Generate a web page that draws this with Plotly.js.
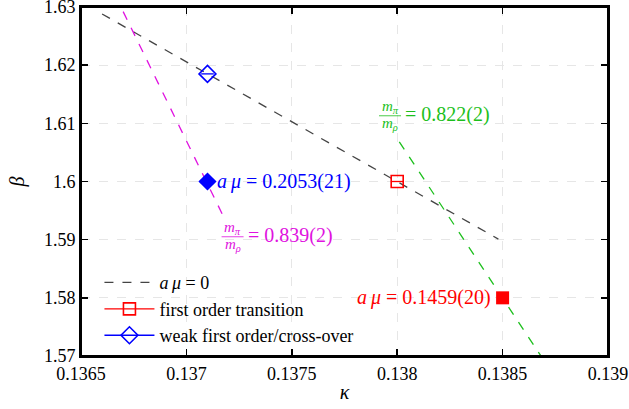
<!DOCTYPE html>
<html>
<head>
<meta charset="utf-8">
<script src="https://cdn.plot.ly/plotly-3.0.1.min.js"></script>
<style>
html,body{margin:0;padding:0;background:#fff}
#plot{width:629px;height:409px}
</style>
</head>
<body>
<div id="plot"></div>
<script>
// a mu = 0 line
const zeroMuKappa = [0.13660, 0.13848];
const zeroMuBeta  = [1.6288, 1.5901];
// m_pi/m_rho = 0.839(2) line
const ratio839Kappa = [0.13670, 0.13717];
const ratio839Beta  = [1.6292, 1.5944];
// m_pi/m_rho = 0.822(2) line
const ratio822Kappa = [0.13801, 0.13868];
const ratio822Beta  = [1.6068, 1.5701];
// points
const firstOrderKappa = [0.1380];
const firstOrderBeta  = [1.600];
const firstOrderErr   = [0.00003];
const weakKappa = [0.1371];
const weakBeta  = [1.6185];
const weakErr   = [0.00003];
const muWeakKappa = [0.1371];
const muWeakBeta  = [1.600];
const muFirstKappa = [0.1385];
const muFirstBeta  = [1.580];
// tick labels
const xTicks = [0.1365, 0.137, 0.1375, 0.138, 0.1385, 0.139];
const xTickText = ["0.1365", "0.137", "0.1375", "0.138", "0.1385", "0.139"];
const yTicks = [1.57, 1.58, 1.59, 1.60, 1.61, 1.62, 1.63];
const yTickText = ["1.57", "1.58", "1.59", "1.6", "1.61", "1.62", "1.63"];
// labels
const muWeakLabel  = "<i>a\u2009\u03bc</i> = 0.2053(21)";
const muFirstLabel = "<i>a\u2009\u03bc</i> = 0.1459(20)";
const ratio839Label = "= 0.839(2)";
const ratio822Label = "= 0.822(2)";
const ratio839Pos = [0.137219, 1.5905];
const ratio822Pos = [0.137966, 1.6113];

const FONT = "'Liberation Serif', 'DejaVu Serif', serif";
const blue = "#0000ff", red = "#ff0000", green = "#1cbf1c", magenta = "#e012e0";

const traces = [
  {x: zeroMuKappa, y: zeroMuBeta, mode: "lines", name: "<i>a\u2009\u03bc</i> = 0",
   line: {color: "#444", width: 1.3, dash: "dash"}, showlegend: true},
  {x: ratio839Kappa, y: ratio839Beta, mode: "lines", line: {color: magenta, width: 1.3, dash: "dash"}, showlegend: false},
  {x: ratio822Kappa, y: ratio822Beta, mode: "lines", line: {color: green, width: 1.3, dash: "dash"}, showlegend: false},
  {x: firstOrderKappa, y: firstOrderBeta, mode: "lines+markers", name: "first order transition",
   line: {color: red, width: 1.3},
   marker: {symbol: "square-open", size: 12, color: red, line: {width: 1.6, color: red}},
   error_x: {type: "data", array: firstOrderErr, color: red, thickness: 1.3, width: 0}},
  {x: weakKappa, y: weakBeta, mode: "lines+markers", name: "weak first order/cross-over",
   line: {color: blue, width: 1.3},
   marker: {symbol: "diamond-open", size: 13, color: blue, line: {width: 1.6, color: blue}},
   error_x: {type: "data", array: weakErr, color: blue, thickness: 1.3, width: 0}},
  {x: muWeakKappa, y: muWeakBeta, mode: "markers", showlegend: false,
   marker: {symbol: "diamond", size: 14, color: blue}},
  {x: muFirstKappa, y: muFirstBeta, mode: "markers", showlegend: false,
   marker: {symbol: "square", size: 13, color: red}}
];

function fraction(pos, color, label) {
  return [
    {x: pos[0], y: pos[1], xref: "x", yref: "y", text: "<i>m<sub>\u03c0</sub></i>", showarrow: false,
     yshift: 9, font: {family: FONT, size: 15, color: color}},
    {x: pos[0], y: pos[1], xref: "x", yref: "y", text: "<i>m<sub>\u03c1</sub></i>", showarrow: false,
     yshift: -8, font: {family: FONT, size: 15, color: color}},
    {x: pos[0], y: pos[1], xref: "x", yref: "y", text: label, showarrow: false,
     xanchor: "left", xshift: 13, yshift: 1, font: {family: FONT, size: 20, color: color}}
  ];
}

const annotations = [
  {x: muWeakKappa[0], y: muWeakBeta[0], xref: "x", yref: "y", text: muWeakLabel,
   showarrow: false, xanchor: "left", xshift: 8, font: {family: FONT, size: 20, color: blue}},
  {x: muFirstKappa[0], y: muFirstBeta[0], xref: "x", yref: "y", text: muFirstLabel,
   showarrow: false, xanchor: "right", xshift: -10, font: {family: FONT, size: 20, color: red}},
  ...fraction(ratio839Pos, magenta, ratio839Label),
  ...fraction(ratio822Pos, green, ratio822Label)
];

function bar(pos, color) {
  return {type: "line", xref: "x", yref: "y", xsizemode: "pixel", ysizemode: "pixel",
    xanchor: pos[0], yanchor: pos[1], x0: -11, x1: 11, y0: 0, y1: 0,
    line: {color: color, width: 0.8}};
}

const axisCommon = {
  showline: true, linecolor: "#000", linewidth: 2, mirror: "ticks",
  ticks: "inside", ticklen: 7, tickwidth: 1.5, tickcolor: "#000",
  showgrid: true, gridcolor: "#e6e6e6", griddash: "dash", gridwidth: 1,
  zeroline: false, ticklabeloverflow: "allow",
  tickfont: {family: FONT, size: 18, color: "#000"}
};

const layout = {
  width: 629, height: 409,
  margin: {l: 81, r: 21, t: 7, b: 53},
  paper_bgcolor: "#fff", plot_bgcolor: "#fff",
  font: {family: FONT, color: "#000"},
  xaxis: Object.assign({}, axisCommon, {
    range: [0.1365, 0.139], tickmode: "array", tickvals: xTicks, ticktext: xTickText,
    title: {text: "<i>\u03ba</i>", font: {family: FONT, size: 20}, standoff: 2}
  }),
  yaxis: Object.assign({}, axisCommon, {
    range: [1.57, 1.63], tickmode: "array", tickvals: yTicks, ticktext: yTickText,
    title: {text: "<i>\u03b2</i>", font: {family: FONT, size: 20}, standoff: 14}
  }),
  legend: {x: 0.035, y: 0.005, xanchor: "left", yanchor: "bottom",
    bgcolor: "rgba(255,255,255,0)", font: {family: FONT, size: 18, color: "#000"},
    itemwidth: 50, tracegroupgap: 0},
  annotations: annotations,
  shapes: [bar(ratio839Pos, magenta), bar(ratio822Pos, green),
    {type: "rect", xref: "paper", yref: "paper", x0: 0, x1: 1, y0: 0, y1: 1,
     line: {color: "#000", width: 2}, layer: "above"}]
};

Plotly.newPlot("plot", traces, layout, {displayModeBar: false, staticPlot: true});
</script>
</body>
</html>
